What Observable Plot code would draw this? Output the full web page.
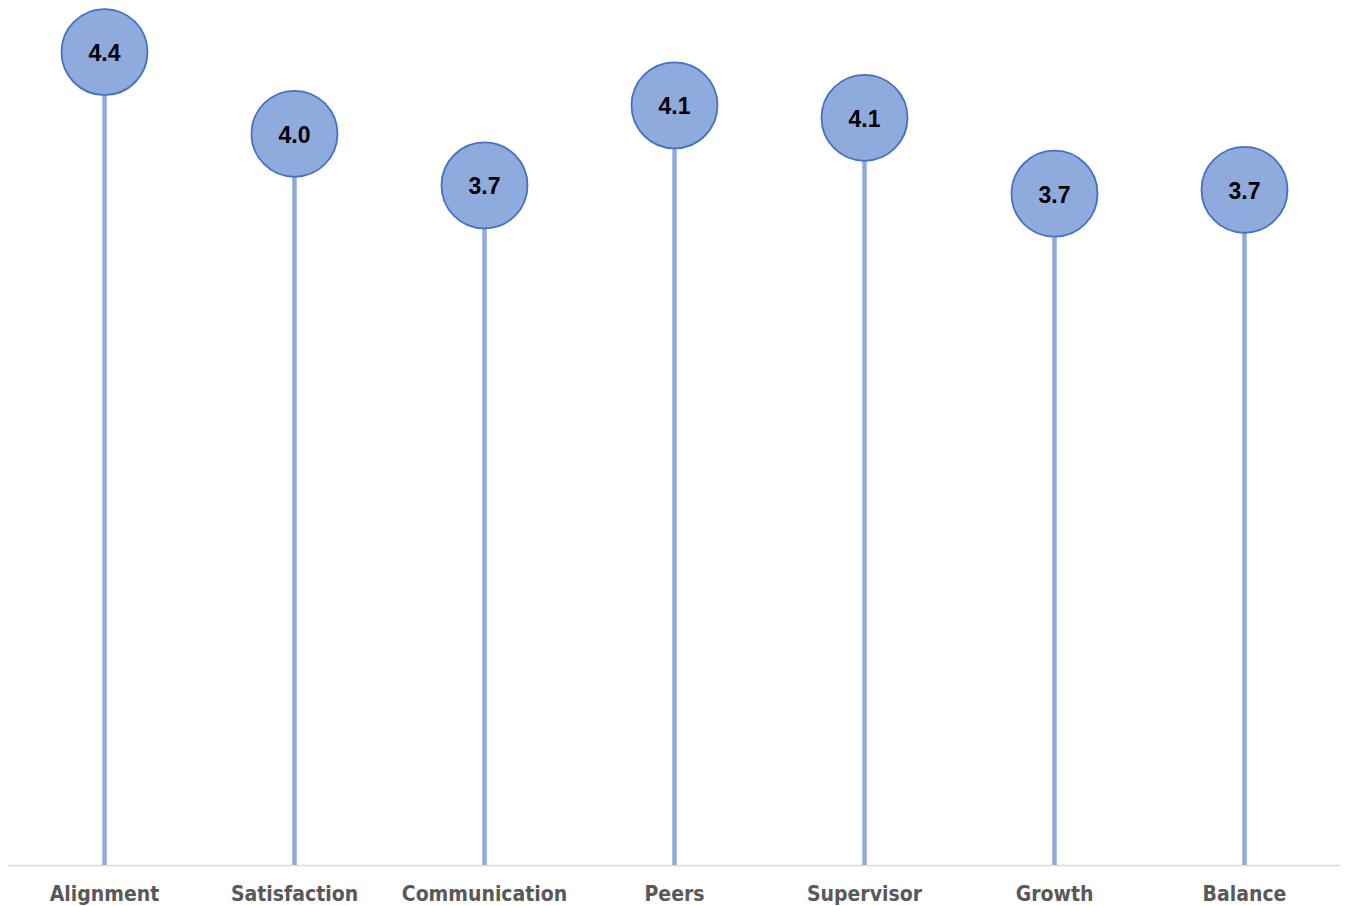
<!DOCTYPE html>
<html>
<head>
<meta charset="utf-8">
<script src="https://cdn.jsdelivr.net/npm/d3@7"></script>
<script src="https://cdn.jsdelivr.net/npm/@observablehq/plot@0.6"></script>
<style>
  html, body { margin: 0; padding: 0; background: #fff; }
  #chart svg { display: block; }
</style>
</head>
<body>
<div id="chart"></div>
<script>
// Engagement survey scores by dimension (1–5 scale, mean)
const categories = ["Alignment", "Satisfaction", "Communication", "Peers", "Supervisor", "Growth", "Balance"];
const scores = [4.43, 3.985, 3.704, 4.14, 4.072, 3.659, 3.68];

const rows = categories.map((c, i) => ({category: c, score: scores[i]}));
const fmt = d3.format(".1f");

const stemColor = "#8faadc";
const ringColor = "#4472c4";

const chart = Plot.plot({
  width: 1348,
  height: 906,
  marginTop: 0,
  marginBottom: 41,
  marginLeft: 8,
  marginRight: 8,
  x: {type: "band", domain: categories, padding: 0, label: null},
  y: {domain: [0, 4.711], axis: null},
  marks: [
    Plot.ruleY([0], {stroke: "#d9d9d9", strokeWidth: 1.5}),
    Plot.ruleX(rows, {x: "category", y1: 0, y2: "score", stroke: stemColor, strokeWidth: 4.5}),
    Plot.dot(rows, {x: "category", y: "score", r: 43, fill: stemColor, stroke: ringColor, strokeWidth: 1.8}),
    Plot.text(rows, {
      x: "category", y: "score", text: d => fmt(d.score), dy: 1.5,
      fill: "#000", fontSize: 23, fontWeight: "bold",
      fontFamily: "Liberation Sans, Arial, sans-serif"
    }),
    Plot.axisX({
      tickSize: 0, tickPadding: 0, dy: 21,
      fontSize: 21, fontWeight: "bold", fill: "#595959",
      fontFamily: "DejaVu Sans Condensed, DejaVu Sans, sans-serif",
      label: null
    })
  ]
});

document.getElementById("chart").appendChild(chart);
</script>
</body>
</html>
